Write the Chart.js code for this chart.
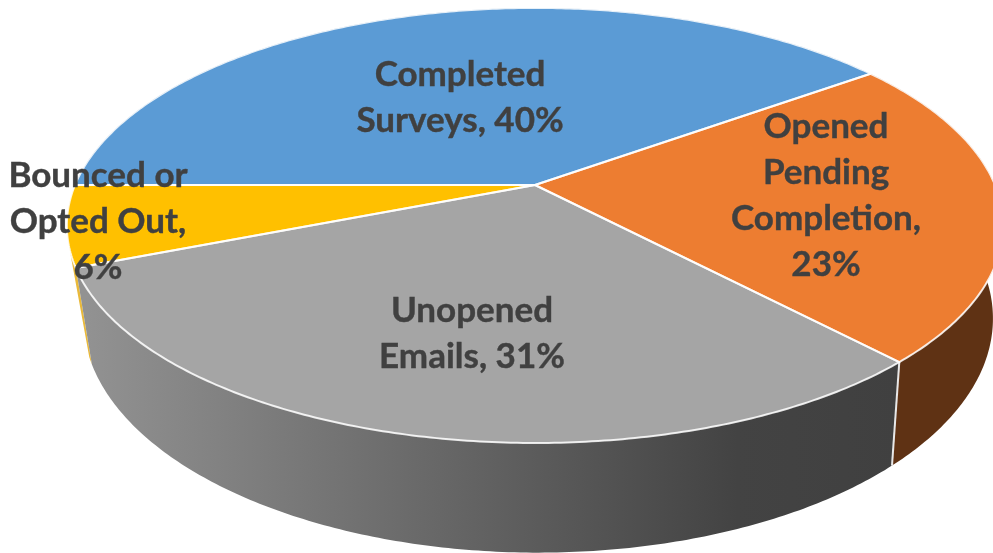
<!DOCTYPE html>
<html>
<head>
<meta charset="utf-8">
<style>
html,body{margin:0;padding:0;background:#fff;overflow:hidden}
canvas{display:block;filter:blur(0.45px)}
</style>
<script src="https://cdn.jsdelivr.net/npm/chart.js@4/dist/chart.umd.min.js"></script>
</head>
<body>
<canvas id="c" width="993" height="553"></canvas>
<script>
const categories = ['Completed Surveys', 'Opened Pending Completion', 'Unopened Emails', 'Bounced or Opted Out'];
const shares = [40, 23, 31, 6];
const labelLines = [
  ['Completed', 'Surveys, 40%'],
  ['Opened', 'Pending', 'Completion,', '23%'],
  ['Unopened', 'Emails, 31%'],
  ['Bounced or', 'Opted Out,', '6%']
];
const topColors = ['#5B9BD5', '#ED7D31', '#A5A5A5', '#FFC000'];
const sideColors = ['#2F5F8E', '#5F3214', null, '#E9B93A'];

// Label anchor (centre x, first baseline centre y) for each slice
const labelAnchors = [[460, 75], [826, 127], [472, 311], [98, 176]];
const lineStep = 46;

// Perspective projection of the pie's top and bottom discs
const topDisc = {x0: 535, y0: 185, a: 460, b: 210, p: -0.186};
const baseDisc = {x0: 538, y0: 275, a: 447, b: 226, p: -0.186};
function project(d, th) {
  const u = Math.cos(th), v = Math.sin(th), w = 1 + d.p * v;
  return [d.x0 + d.a * u / w, d.y0 + d.b * v / w];
}
function rim(ctx, d, from, to, first) {
  const n = Math.max(8, Math.ceil(Math.abs(to - from) * 90));
  for (let i = 0; i <= n; i++) {
    const pt = project(d, from + (to - from) * i / n);
    if (i === 0 && first) ctx.moveTo(pt[0], pt[1]); else ctx.lineTo(pt[0], pt[1]);
  }
}
const pie3d = {
  id: 'pie3d',
  beforeDatasetDraw(chart) {
    const ctx = chart.ctx, arcs = chart.getDatasetMeta(0).data;
    ctx.save();
    ctx.lineJoin = 'round';
    // side wall, back to front
    [0, 1, 3, 2].forEach(i => {
      const a = arcs[i];
      // the small slice only shows a sliver of wall beside the grey one
      const end = i === 3 ? a.startAngle + 0.03 : a.endAngle;
      ctx.beginPath();
      rim(ctx, topDisc, a.startAngle, i === 3 ? a.startAngle + 0.09 : end, true);
      rim(ctx, baseDisc, end, a.startAngle, false);
      ctx.closePath();
      if (i === 2) {
        const g = ctx.createLinearGradient(85, 0, 900, 0);
        g.addColorStop(0, '#929292');
        g.addColorStop(0.8, '#434343');
        g.addColorStop(1, '#404040');
        ctx.fillStyle = g;
      } else {
        ctx.fillStyle = sideColors[i];
      }
      ctx.fill();
    });
    // white seam between the grey and brown walls
    const seam = arcs[1].endAngle, s0 = project(topDisc, seam), s1 = project(baseDisc, seam);
    ctx.strokeStyle = '#e8e8e8';
    ctx.lineWidth = 2;
    ctx.beginPath(); ctx.moveTo(s0[0], s0[1]); ctx.lineTo(s1[0], s1[1]); ctx.stroke();
    // top face
    arcs.forEach((a, i) => {
      ctx.beginPath();
      ctx.moveTo(topDisc.x0, topDisc.y0);
      rim(ctx, topDisc, a.startAngle, a.endAngle, false);
      ctx.closePath();
      ctx.fillStyle = topColors[i];
      ctx.fill();
    });
    arcs.forEach((a, i) => {
      ctx.beginPath();
      ctx.moveTo(topDisc.x0, topDisc.y0);
      rim(ctx, topDisc, a.startAngle, a.endAngle, false);
      ctx.closePath();
      ctx.strokeStyle = 'rgba(255,255,255,0.85)';
      ctx.lineWidth = 2;
      ctx.stroke();
    });
    ctx.restore();
    return false;
  },
  afterDatasetsDraw(chart) {
    const ctx = chart.ctx;
    ctx.save();
    ctx.font = 'bold 35px Lato, "Open Sans", sans-serif';
    ctx.fillStyle = '#404040';
    ctx.strokeStyle = '#404040';
    ctx.lineWidth = 0.4;
    ctx.textAlign = 'center';
    ctx.textBaseline = 'middle';
    labelLines.forEach((lines, i) => {
      lines.forEach((t, j) => {
        const x = labelAnchors[i][0], y = labelAnchors[i][1] + j * lineStep;
        ctx.fillText(t, x, y);
        ctx.strokeText(t, x, y);
      });
    });
    ctx.restore();
  }
};
new Chart(document.getElementById('c'), {
  type: 'pie',
  data: {
    labels: categories,
    datasets: [{data: shares, backgroundColor: topColors, borderColor: '#ffffff', borderWidth: 2}]
  },
  options: {
    responsive: false,
    animation: false,
    rotation: -90,
    layout: {padding: 0},
    plugins: {legend: {display: false}, tooltip: {enabled: false}, title: {display: false}}
  },
  plugins: [pie3d]
});
</script>
</body>
</html>
